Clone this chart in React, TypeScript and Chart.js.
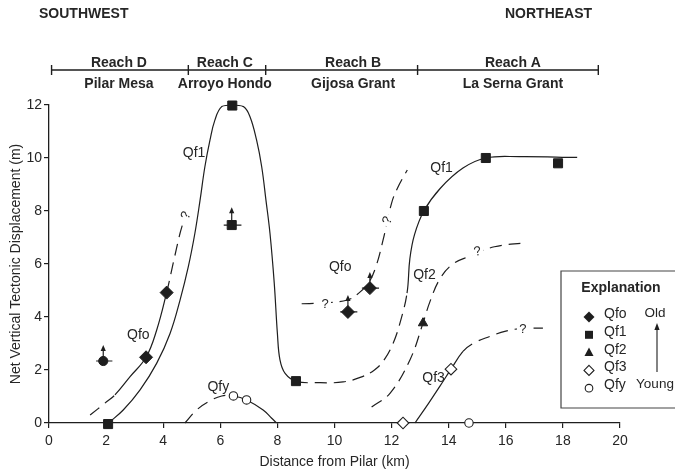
import React, { useEffect, useRef } from "react";
import { Chart, registerables } from "chart.js";

Chart.register(...registerables);

// ---------- Data (km, m) ----------
// Qf1 surface, peak in Reach C (solid)
const qf1PeakX = [2.08, 2.6, 3.19, 3.77, 4.24, 4.59, 4.88, 5.11, 5.29, 5.46, 5.64, 5.81, 6.05, 6.42, 6.81, 7.04, 7.27, 7.45, 7.6, 7.74, 7.89, 8.0, 8.09, 8.27, 8.65];
const qf1PeakY = [0, 0.49, 1.25, 2.25, 3.38, 4.64, 5.9, 7.16, 8.4, 9.67, 10.68, 11.43, 11.94, 12.0, 11.94, 11.56, 10.68, 9.67, 8.4, 7.16, 5.27, 3.38, 2.38, 1.87, 1.58];
// Qf1 inferred (dashed) across Reach B
const qf1GapX = [9.5, 10.3, 10.9, 11.4, 11.75, 12.05, 12.3, 12.54];
const qf1GapY = [1.52, 1.55, 1.72, 2.0, 2.4, 3.0, 3.8, 4.9];
// Qf1 Reach A (solid)
const qf1EastX = [12.64, 12.8, 13.13, 13.7, 14.5, 15.3, 16.5, 18.5];
const qf1EastY = [6.2, 7.1, 8.0, 8.85, 9.62, 10.0, 10.05, 10.02];
// Qfo west
const qfoWestX = [1.44, 1.96, 2.31, 2.84, 3.4, 3.77, 4.12, 4.35, 4.59, 4.68];
const qfoWestY = [0.3, 0.75, 1.06, 1.75, 2.48, 3.5, 4.92, 6.03, 7.16, 7.5];
// Qfo east (dashed)
const qfoEastX = [8.85, 9.6, 10.45, 10.85, 11.2, 11.45, 11.7, 12.0, 12.2, 12.55];
const qfoEastY = [4.5, 4.53, 4.64, 4.9, 5.3, 5.9, 6.9, 8.3, 8.85, 9.55];
// Qf2 (dashed)
const qf2X = [11.3, 11.95, 12.65, 13.1, 13.35, 13.7, 14.15, 14.75, 15.6, 16.7];
const qf2Y = [0.6, 1.13, 2.4, 3.77, 4.6, 5.45, 6.0, 6.3, 6.65, 6.8];
// Qf3
const qf3X = [12.82, 13.3, 13.7, 14.08, 14.5, 14.85, 15.45, 16.0, 16.6, 17.3];
const qf3Y = [0, 0.75, 1.4, 2.03, 2.7, 3.0, 3.27, 3.47, 3.57, 3.58];
// Qfy
const qfyX = [4.76, 5.17, 5.58, 6.05, 6.46, 6.92, 7.5, 7.8, 7.97];
const qfyY = [0, 0.49, 0.8, 1.02, 1.02, 0.87, 0.49, 0.18, 0];

// Inferred (dashed) stretches of each curve, km ranges
const qf1Inferred = [[8.65, 12.54]];
const qfoWestInferred = [[-1, 2.31], [4.12, 99]];
const qf3Inferred = [[14.5, 99]];
const qfyInferred = [[-1, 6.46]];

// Measured points
const qfoPtX = [3.4, 4.12, 10.47, 11.24];
const qfoPtY = [2.48, 4.92, 4.19, 5.09];
const qf1PtX = [2.07, 6.42, 6.4, 8.65, 13.13, 15.3, 17.83];
const qf1PtY = [-0.04, 11.98, 7.47, 1.58, 8.0, 10.0, 9.8];
const qf2PtX = [13.1];
const qf2PtY = [3.77];
const qf3PtX = [12.4, 14.08];
const qf3PtY = [0, 2.03];
const qfyPtX = [6.46, 6.92, 14.71];
const qfyPtY = [1.02, 0.87, 0];
const otherPtX = [1.9];
const otherPtY = [2.34];

// Minimum values: horizontal uncertainty bar and up arrow
const minX = [1.9, 6.4, 10.47, 11.24];
const minY = [2.34, 7.47, 4.19, 5.09];
const minBarLo = [1.65, 6.12, 10.2, 10.96];
const minBarHi = [2.22, 6.74, 10.8, 11.56];
const minArrowTop = [2.94, 8.14, 4.83, 5.7];

// Curve labels
const curveLabelText = ["Qf1", "Qfo", "Qfy", "Qfo", "Qf1", "Qf2", "Qf3"];
const curveLabelX = [5.08, 3.13, 5.93, 10.2, 13.75, 13.15, 13.47];
const curveLabelY = [10.19, 3.32, 1.37, 5.9, 9.62, 5.58, 1.7];

// Query marks on inferred lines
const queryX = [4.77, 9.67, 11.83, 15.0, 16.6];
const queryY = [7.85, 4.53, 7.66, 6.5, 3.58];
const queryRotDeg = [-70, 0, -70, -12, 0];

// Reaches
const reachBounds = [0.09, 4.88, 7.59, 12.91, 19.24];
const reachNames = ["Reach D", "Reach C", "Reach B", "Reach A"];
const reachPlaces = ["Pilar Mesa", "Arroyo Hondo", "Gijosa Grant", "La Serna Grant"];
const reachLabelX = [2.45, 6.16, 10.65, 16.25];
const directionLabels = ["SOUTHWEST", "NORTHEAST"];

const legendLabels = ["Qfo", "Qf1", "Qf2", "Qf3", "Qfy"];
const legendTitle = "Explanation";
const ageLabels = ["Old", "Young"];

const xTitle = "Distance from Pilar (km)";
const yTitle = "Net Vertical Tectonic Displacement (m)";

// ---------- Styles ----------
const FONT = '"Liberation Sans", Arial, Helvetica, sans-serif';
const INK = "#1e1e1e";
const TXT = "#262626";
const DASH = [12, 7];

const pts = (xs: number[], ys: number[]) => xs.map((x, i) => ({ x, y: ys[i] }));

const lineDs = (label: string, xs: number[], ys: number[], inferred: number[][] | "all") => ({
  label,
  data: pts(xs, ys),
  showLine: true,
  borderColor: INK,
  borderWidth: 1.2,
  borderDash: inferred === "all" ? DASH : [],
  segment:
    inferred === "all"
      ? undefined
      : {
          borderDash: (c: any) => {
            const m = (c.p0.parsed.x + c.p1.parsed.x) / 2;
            return inferred.some((r) => m > r[0] && m < r[1]) ? DASH : [];
          },
        },
  pointRadius: 0,
  pointHoverRadius: 0,
  tension: 0.4,
  fill: false,
  clip: false,
  order: 2,
});

const markDs = (label: string, xs: number[], ys: number[], style: string, r: number, open: boolean) => ({
  label,
  data: pts(xs, ys),
  showLine: false,
  pointStyle: style,
  pointRadius: r,
  pointHoverRadius: r,
  backgroundColor: open ? "#ffffff" : INK,
  borderColor: INK,
  borderWidth: open ? 1.1 : 1,
  clip: false,
  order: 0,
});

function drawMarker(ctx: CanvasRenderingContext2D, kind: number, x: number, y: number) {
  ctx.save();
  ctx.strokeStyle = INK;
  ctx.fillStyle = INK;
  ctx.lineWidth = 1.1;
  ctx.beginPath();
  if (kind === 0) {
    const r = 5.5;
    ctx.moveTo(x, y - r); ctx.lineTo(x + r, y); ctx.lineTo(x, y + r); ctx.lineTo(x - r, y); ctx.closePath();
    ctx.fill();
  } else if (kind === 1) {
    ctx.rect(x - 4, y - 4, 8, 8);
    ctx.fill();
  } else if (kind === 2) {
    ctx.moveTo(x, y - 5); ctx.lineTo(x + 4.5, y + 3.5); ctx.lineTo(x - 4.5, y + 3.5); ctx.closePath();
    ctx.fill();
  } else if (kind === 3) {
    const r = 5;
    ctx.moveTo(x, y - r); ctx.lineTo(x + r, y); ctx.lineTo(x, y + r); ctx.lineTo(x - r, y); ctx.closePath();
    ctx.fillStyle = "#fff"; ctx.fill(); ctx.stroke();
  } else {
    ctx.arc(x, y, 3.8, 0, Math.PI * 2);
    ctx.fillStyle = "#fff"; ctx.fill(); ctx.stroke();
  }
  ctx.restore();
}

const annotations = {
  id: "annotations",
  afterDatasetsDraw(chart: any) {
    const ctx: CanvasRenderingContext2D = chart.ctx;
    const sx = chart.scales.x;
    const sy = chart.scales.y;
    ctx.save();
    // query marks
    ctx.font = `13px ${FONT}`;
    ctx.textAlign = "center";
    ctx.textBaseline = "middle";
    queryX.forEach((qx, i) => {
      const x = sx.getPixelForValue(qx);
      const y = sy.getPixelForValue(queryY[i]);
      ctx.save();
      ctx.translate(x, y);
      ctx.rotate((queryRotDeg[i] * Math.PI) / 180);
      ctx.fillStyle = "#fff";
      ctx.fillRect(-6, -7, 12, 14);
      ctx.fillStyle = TXT;
      ctx.fillText("?", 0, 1);
      ctx.restore();
    });
    // min-value bars and arrows
    ctx.strokeStyle = INK;
    ctx.fillStyle = INK;
    ctx.lineWidth = 1.2;
    minX.forEach((mx, i) => {
      const x = sx.getPixelForValue(mx);
      const y = sy.getPixelForValue(minY[i]);
      const xl = sx.getPixelForValue(minBarLo[i]);
      const xr = sx.getPixelForValue(minBarHi[i]);
      const yt = sy.getPixelForValue(minArrowTop[i]);
      ctx.beginPath();
      ctx.moveTo(xl, y); ctx.lineTo(xr, y);
      ctx.moveTo(x, y); ctx.lineTo(x, yt + 4);
      ctx.stroke();
      ctx.beginPath();
      ctx.moveTo(x, yt); ctx.lineTo(x + 2.6, yt + 6); ctx.lineTo(x - 2.6, yt + 6); ctx.closePath();
      ctx.fill();
    });
    // curve labels
    ctx.fillStyle = TXT;
    ctx.font = `14px ${FONT}`;
    ctx.textAlign = "center";
    ctx.textBaseline = "middle";
    curveLabelText.forEach((t, i) => {
      ctx.fillText(t, sx.getPixelForValue(curveLabelX[i]), sy.getPixelForValue(curveLabelY[i]));
    });
    ctx.restore();
  },
  afterDraw(chart: any) {
    const ctx: CanvasRenderingContext2D = chart.ctx;
    const sx = chart.scales.x;
    ctx.save();
    // direction labels
    ctx.fillStyle = TXT;
    ctx.font = `bold 14px ${FONT}`;
    ctx.textBaseline = "alphabetic";
    ctx.textAlign = "left";
    ctx.fillText(directionLabels[0], 39, 18);
    ctx.fillText(directionLabels[1], 505, 18);
    // reach bar
    const bx = reachBounds.map((v) => sx.getPixelForValue(v));
    ctx.strokeStyle = INK;
    ctx.lineWidth = 1.4;
    ctx.beginPath();
    ctx.moveTo(bx[0], 70);
    ctx.lineTo(bx[bx.length - 1], 70);
    bx.forEach((b) => { ctx.moveTo(b, 65); ctx.lineTo(b, 75); });
    ctx.stroke();
    ctx.textAlign = "center";
    reachNames.forEach((n, i) => {
      const x = sx.getPixelForValue(reachLabelX[i]);
      ctx.fillText(n, x, 66.5);
      ctx.fillText(reachPlaces[i], x, 88);
    });
    // legend box
    ctx.lineWidth = 1.2;
    ctx.strokeStyle = "#444";
    ctx.fillStyle = "#fff";
    ctx.beginPath();
    ctx.rect(561, 271, 130, 137);
    ctx.fill();
    ctx.stroke();
    ctx.fillStyle = TXT;
    ctx.font = `bold 14px ${FONT}`;
    ctx.textAlign = "center";
    ctx.fillText(legendTitle, 621, 291.5);
    ctx.font = `14px ${FONT}`;
    ctx.textAlign = "left";
    legendLabels.forEach((l, i) => {
      const base = 318 + i * 17.8;
      ctx.fillStyle = TXT;
      ctx.fillText(l, 604, base);
      drawMarker(ctx, i, 589, base - 1);
    });
    ctx.fillStyle = TXT;
    ctx.font = `13.5px ${FONT}`;
    ctx.textAlign = "center";
    ctx.fillText(ageLabels[0], 655, 316.5);
    ctx.fillText(ageLabels[1], 655, 388);
    ctx.strokeStyle = INK;
    ctx.lineWidth = 1.1;
    ctx.beginPath();
    ctx.moveTo(657, 372);
    ctx.lineTo(657, 328);
    ctx.stroke();
    ctx.fillStyle = INK;
    ctx.beginPath();
    ctx.moveTo(657, 323); ctx.lineTo(659.6, 330); ctx.lineTo(654.4, 330); ctx.closePath();
    ctx.fill();
    ctx.restore();
  },
};

export default function App() {
  const ref = useRef<HTMLCanvasElement>(null);
  useEffect(() => {
    if (!ref.current) return;
    const qf1X = [...qf1PeakX, ...qf1GapX, ...qf1EastX];
    const qf1Y = [...qf1PeakY, ...qf1GapY, ...qf1EastY];
    const datasets: any[] = [
      markDs("Qfo", qfoPtX, qfoPtY, "rectRot", 6.5, false),
      markDs("Qf1", qf1PtX, qf1PtY, "rect", 6.4, false),
      markDs("Qf2", qf2PtX, qf2PtY, "triangle", 5.4, false),
      markDs("Qf3", qf3PtX, qf3PtY, "rectRot", 5.8, true),
      markDs("Qfy", qfyPtX, qfyPtY, "circle", 4.2, true),
      markDs("other", otherPtX, otherPtY, "circle", 4.6, false),
      lineDs("qf1", qf1X, qf1Y, qf1Inferred),
      lineDs("qfoWest", qfoWestX, qfoWestY, qfoWestInferred),
      lineDs("qfoEast", qfoEastX, qfoEastY, "all"),
      lineDs("qf2", qf2X, qf2Y, "all"),
      lineDs("qf3", qf3X, qf3Y, qf3Inferred),
      lineDs("qfy", qfyX, qfyY, qfyInferred),
    ];
    const tickFont = { family: FONT, size: 14 };
    const chart = new Chart(ref.current, {
      type: "scatter",
      data: { datasets },
      options: {
        responsive: false,
        animation: false,
        devicePixelRatio: 1,
        events: [],
        layout: { padding: { top: 105, right: 55, left: 0, bottom: 0 } },
        plugins: { legend: { display: false }, tooltip: { enabled: false }, title: { display: false } },
        scales: {
          x: {
            type: "linear",
            min: 0,
            max: 20,
            ticks: { stepSize: 2, color: TXT, font: tickFont, padding: 5, maxRotation: 0 },
            grid: { drawOnChartArea: false, drawTicks: true, tickLength: 5, color: INK, lineWidth: 1.2 },
            border: { display: true, color: INK, width: 1.3 },
            title: { display: true, text: xTitle, color: TXT, font: { family: FONT, size: 14 }, padding: { top: 0, bottom: 3 } },
            afterFit: (s: any) => { s.height = 51; },
          },
          y: {
            type: "linear",
            min: 0,
            max: 12,
            ticks: { stepSize: 2, color: TXT, font: tickFont, padding: 2 },
            grid: { drawOnChartArea: false, drawTicks: true, tickLength: 5, color: INK, lineWidth: 1.2 },
            border: { display: true, color: INK, width: 1.3 },
            title: { display: true, text: yTitle, color: TXT, font: { family: FONT, size: 14 }, padding: { top: 8, bottom: 0 } },
            afterFit: (s: any) => { s.width = 49; },
          },
        },
      } as any,
      plugins: [annotations],
    });
    return () => chart.destroy();
  }, []);
  return (
    <div style={{ position: "absolute", left: 0, top: 0, width: 675, height: 474, background: "#fff" }}>
      <canvas ref={ref} width={675} height={474} style={{ display: "block", width: 675, height: 474 }} />
    </div>
  );
}
